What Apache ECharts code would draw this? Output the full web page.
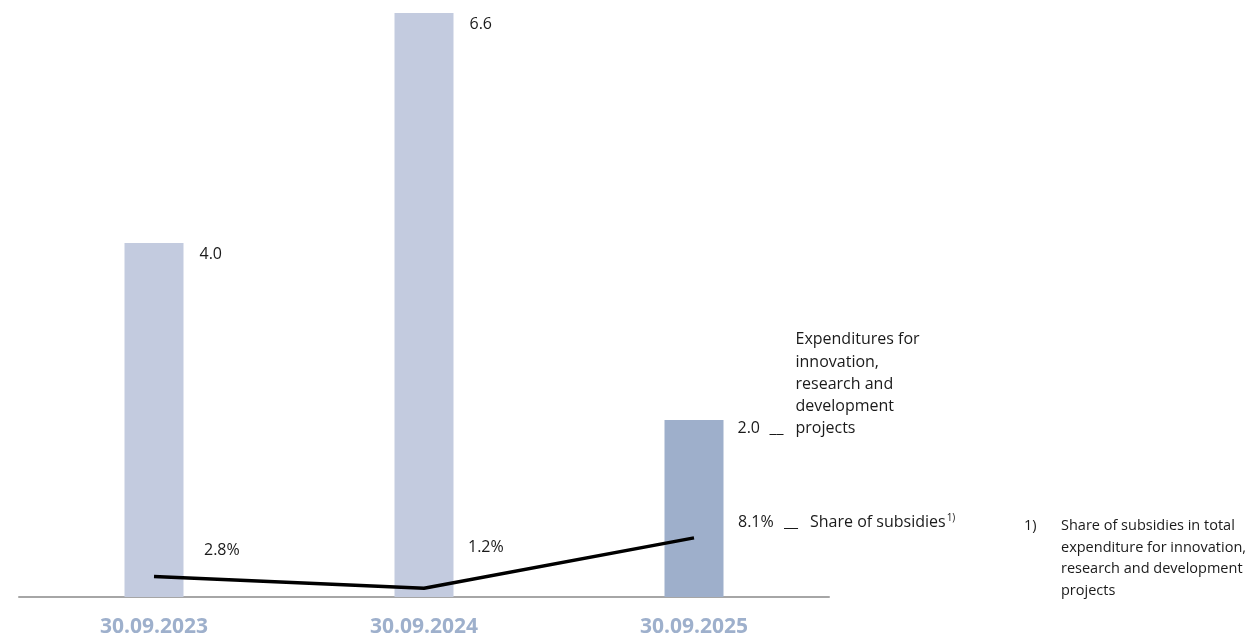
<!DOCTYPE html>
<html>
<head>
<meta charset="utf-8">
<script src="https://cdn.jsdelivr.net/npm/echarts@6/dist/echarts.min.js"></script>
<style>
html,body{margin:0;padding:0;background:#fff;}
#chart{width:1248px;height:634px;}
</style>
</head>
<body>
<div id="chart"></div>
<script>
const categories = ['30.09.2023', '30.09.2024', '30.09.2025'];
const expenditures = [4.0, 6.6, 2.0];
const subsidyShare = [2.8, 1.2, 8.1];
const expLegendLines = ['Expenditures for', 'innovation,', 'research and', 'development', 'projects'];
const shareLegend = 'Share of subsidies';
const footnoteMark = '1)';
const footnoteLines = ['Share of subsidies in total', 'expenditure for innovation,', 'research and development', 'projects'];

const FONT = '"Open Sans", "Noto Sans", sans-serif';
const barColors = ['#c3cbdf', '#c3cbdf', '#9eafcb'];
const shareLabelOffsets = [[50, -26], [44, -41], [44, -15]];

const chart = echarts.init(document.getElementById('chart'), null, {renderer: 'canvas'});

const barData = expenditures.map((v, i) => {
  const item = {value: v, itemStyle: {color: barColors[i]}};
  if (i === expenditures.length - 1) {
    item.label = {position: [73, 20], verticalAlign: 'bottom'};
  }
  return item;
});

const lineData = subsidyShare.map((v, i) => ({
  value: v,
  label: {offset: shareLabelOffsets[i]}
}));

const TXT = '#1a1a1a';

const option = {
  animation: false,
  textStyle: {fontFamily: FONT},
  grid: {left: 19, right: 419, top: 13, bottom: 37, containLabel: false, outerBoundsMode: 'none'},
  xAxis: {
    type: 'category',
    data: categories,
    axisLine: {show: true, lineStyle: {color: '#a6a6a6', width: 2}},
    axisTick: {show: false},
    axisLabel: {color: '#9eb0cc', fontWeight: 'bold', fontSize: 21, fontFamily: FONT, margin: 20}
  },
  yAxis: [
    {type: 'value', min: 0, max: 6.6, show: false},
    {type: 'value', min: 0, max: 80, show: false}
  ],
  series: [
    {
      type: 'bar',
      data: barData,
      barWidth: 59,
      yAxisIndex: 0,
      label: {
        show: true,
        position: [75, 2],
        align: 'left',
        verticalAlign: 'top',
        fontSize: 16,
        fontFamily: FONT,
        color: TXT,
        lineHeight: 18,
        formatter: function (p) {
          const val = p.value.toFixed(1);
          if (p.dataIndex === expenditures.length - 1) {
            const n = expLegendLines.length;
            const lines = expLegendLines.slice(0, n - 1).map(t => '{t|' + t + '}');
            lines.push('{v|' + val + '}{u|__}{tp|' + expLegendLines[n - 1] + '}');
            return lines.join('\n');
          }
          return val;
        },
        rich: {
          t: {fontSize: 16, fontFamily: FONT, color: TXT, lineHeight: 22.3, padding: [0, 0, 0, 58]},
          tp: {fontSize: 16, fontFamily: FONT, color: TXT, lineHeight: 22.3},
          v: {fontSize: 16, fontFamily: FONT, color: TXT, lineHeight: 22.3, width: 32},
          u: {fontSize: 16, fontFamily: FONT, color: TXT, lineHeight: 22.3, width: 26}
        }
      }
    },
    {
      type: 'line',
      data: lineData,
      yAxisIndex: 1,
      symbol: 'circle',
      symbolSize: 0.1,
      itemStyle: {color: 'rgba(0,0,0,0)'},
      lineStyle: {color: '#000', width: 3.5},
      z: 5,
      label: {
        show: true,
        position: 'inside',
        align: 'left',
        verticalAlign: 'middle',
        fontSize: 16,
        fontFamily: FONT,
        color: TXT,
        formatter: function (p) {
          const val = p.value.toFixed(1) + '%';
          if (p.dataIndex === subsidyShare.length - 1) {
            return '{v|' + val + '}{u|__}{t|' + shareLegend + '}{sup|' + footnoteMark + '}';
          }
          return val;
        },
        rich: {
          v: {fontSize: 16, fontFamily: FONT, color: TXT, width: 46, lineHeight: 20},
          u: {fontSize: 16, fontFamily: FONT, color: TXT, width: 26, lineHeight: 20},
          t: {fontSize: 16, fontFamily: FONT, color: TXT, lineHeight: 20},
          sup: {fontSize: 10, fontFamily: FONT, color: TXT, lineHeight: 20, verticalAlign: 'top', padding: [0, 0, 6, 1]}
        }
      }
    }
  ],
  graphic: [
    {
      type: 'text', left: 1024, top: 515,
      style: {text: footnoteMark, fontSize: 14.5, fontFamily: FONT, fill: TXT, lineHeight: 21.7}
    },
    {
      type: 'text', left: 1061, top: 515,
      style: {text: footnoteLines.join('\n'), fontSize: 14.5, fontFamily: FONT, fill: TXT, lineHeight: 21.7}
    }
  ]
};

chart.setOption(option);
</script>
</body>
</html>
